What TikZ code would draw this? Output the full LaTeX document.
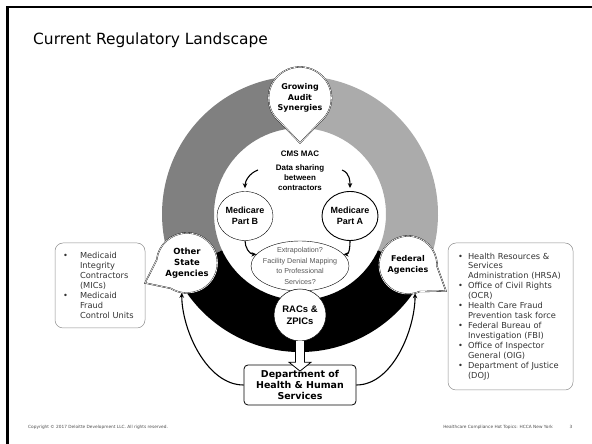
\documentclass[tikz,border=0pt]{standalone}
\usepackage{fontspec}
\setmainfont{DejaVu Sans}
\newfontfamily\arialfont{Liberation Sans}
\usetikzlibrary{positioning}
\usetikzlibrary{shapes}
\usetikzlibrary{calc}
\usetikzlibrary{arrows.meta}

\definecolor{ringdark}{gray}{0.50}
\definecolor{ringlight}{gray}{0.67}
\definecolor{boxline}{gray}{0.55}

\newcommand{\bul}[1]{\makebox[#1][l]{\textbullet}}

\begin{document}
\begin{tikzpicture}[x=1bp, y=1bp,
        hub/.style={ellipse callout, draw, double, double distance=0.6bp, line width=0.35bp, fill=white, inner sep=0pt, minimum width=62bp, minimum height=62bp, callout pointer arc=80, align=center, font=\bfseries\fontsize{8}{10.5}\selectfont},
        plan/.style={ellipse, draw, fill=white, inner sep=0pt, minimum width=56bp, minimum height=49bp, align=center, font=\arialfont\bfseries\fontsize{9}{11}\selectfont},
        contractor/.style={circle, draw, line width=0.5bp, fill=white, inner sep=0pt, minimum size=52bp, align=center, font=\arialfont\bfseries\fontsize{9.5}{12}\selectfont},
        dept/.style={rectangle, draw, fill=white, rounded corners=4bp, line width=0.8bp, minimum width=112bp, minimum height=40bp, inner sep=0pt, align=center, font=\bfseries\fontsize{9.5}{11}\selectfont},
        listbox/.style={rectangle, draw=boxline, line width=0.5bp, rounded corners=8bp, align=left, inner sep=0pt, text=black!80, font=\fontsize{8.3}{10}\selectfont},
        note/.style={align=center, font=\arialfont\bfseries\fontsize{8}{10}\selectfont},
        flow/.style={-{Stealth[length=5bp,width=4.5bp]}, line width=1.1bp},
        footer/.style={text=black!70, font=\fontsize{4.3}{5}\selectfont, inner sep=0pt}
    ]
        \useasboundingbox (0,0) rectangle (592,444);

        % slide frame and title
        \draw[line width=2.2bp] (7.5,0) -- (7.5,437) -- (592,437);
        \node[anchor=base west, inner sep=0pt, font=\fontsize{15.5}{18}\selectfont] (title) at (33,399) {Current Regulatory Landscape};

        % ring behind the bubbles
        \coordinate (ring) at (300,230);
        \foreach \from/\to/\tone in {90/205/ringdark, -25/90/ringlight, 205/335/black}
            \fill[\tone] ($(ring)+(\from:138bp)$) arc[start angle=\from, end angle=\to, radius=138bp]
                -- ($(ring)+(\to:86bp)$) arc[start angle=\to, end angle=\from, radius=86bp] -- cycle;

        \node[listbox, minimum width=90bp, minimum height=85bp, text width=74bp] (statelist) at (100,158.5)
            {\bul{17bp}Medicaid\\ \hspace*{17bp}Integrity\\ \hspace*{17bp}Contractors\\ \hspace*{17bp}(MICs)\\
             \bul{17bp}Medicaid\\ \hspace*{17bp}Fraud\\ \hspace*{17bp}Control Units};
        \node[listbox, minimum width=125bp, minimum height=147bp, text width=105bp] (fedlist) at (510.5,127.5)
            {\bul{10bp}Health Resources \&\\ \hspace*{10bp}Services\\ \hspace*{10bp}Administration (HRSA)\\
             \bul{10bp}Office of Civil Rights\\ \hspace*{10bp}(OCR)\\
             \bul{10bp}Health Care Fraud\\ \hspace*{10bp}Prevention task force\\
             \bul{10bp}Federal Bureau of\\ \hspace*{10bp}Investigation (FBI)\\
             \bul{10bp}Office of Inspector\\ \hspace*{10bp}General (OIG)\\
             \bul{10bp}Department of Justice\\ \hspace*{10bp}(DOJ)};

        \node[hub, callout absolute pointer={(300,301)}] (audit) at (300,346) {Growing\\Audit\\Synergies};
        \node[hub, minimum width=60bp, minimum height=60bp, callout pointer arc=64, callout absolute pointer={(145,161)}, font=\bfseries\fontsize{8.5}{11.3}\selectfont] (other) at (187,181) {Other\\State\\Agencies};
        \node[hub, minimum width=58bp, minimum height=58bp, callout pointer arc=64, callout absolute pointer={(446,153)}] (federal) at (408,179) {Federal\\Agencies};

        \node[note] (cms) at (300,290) {CMS MAC};
        \node[note] (share) at (300,266) {Data sharing\\between\\contractors};
        \coordinate (shareleft) at (258,274);
        \coordinate (shareright) at (342,274);

        \node[plan, line width=0.4bp] (partb) at (245,228) {Medicare\\Part B};
        \node[plan, line width=0.9bp] (parta) at (350,228) {Medicare\\Part A};
        \node[plan, line width=0.4bp, minimum width=98bp, minimum height=50bp] (extrap) at (300,178) {};
        \node[align=center, text=black!65, font=\arialfont\fontsize{7.2}{10.5}\selectfont] (extraptext) at (extrap) {Extrapolation?\\Facility Denial Mapping\\to Professional\\Services?};

        \node[dept] (dhhs) at (300,59) {Department of\\Health \& Human\\Services};
        \node[contractor] (racs) at (300,129) {RACs \&\\ZPICs};

        % hollow arrow down to the department
        \draw[fill=white, line width=0.8bp] ($(racs.south)+(-4.5,0.4)$) -- ++(0,-21.4) -- ++(-6.5,0) -- ($(dhhs.north)+(0,-6.5)$)
            -- ($(racs.south)+(11,-21)$) -- ++(-6.5,0) -- ++(0,21.4);

        \draw[flow, shorten >=3bp] (shareleft) to[out=200, in=90] (partb.north);
        \draw[flow, shorten >=3bp] (shareright) to[out=-20, in=90] (parta.north);
        \draw[flow] (partb.south) to[out=-90, in=180] (extrap.165);
        \draw[flow] (parta.south) to[out=-90, in=0] (extrap.15);
        \draw[flow] (dhhs.west) to[out=180, in=-90, looseness=0.85] (other.-100);
        \draw[flow] (dhhs.east) to[out=0, in=-90, looseness=0.85] (federal.-76);

        \node[footer, anchor=base west] (copyright) at (28,15) {Copyright © 2017 Deloitte Development LLC. All rights reserved.};
        \node[footer, anchor=base east] (event) at (553,15) {Healthcare Compliance Hot Topics: HCCA New York};
        \node[footer, anchor=base] (page) at (571,15) {3};
    \end{tikzpicture}
\end{document}
